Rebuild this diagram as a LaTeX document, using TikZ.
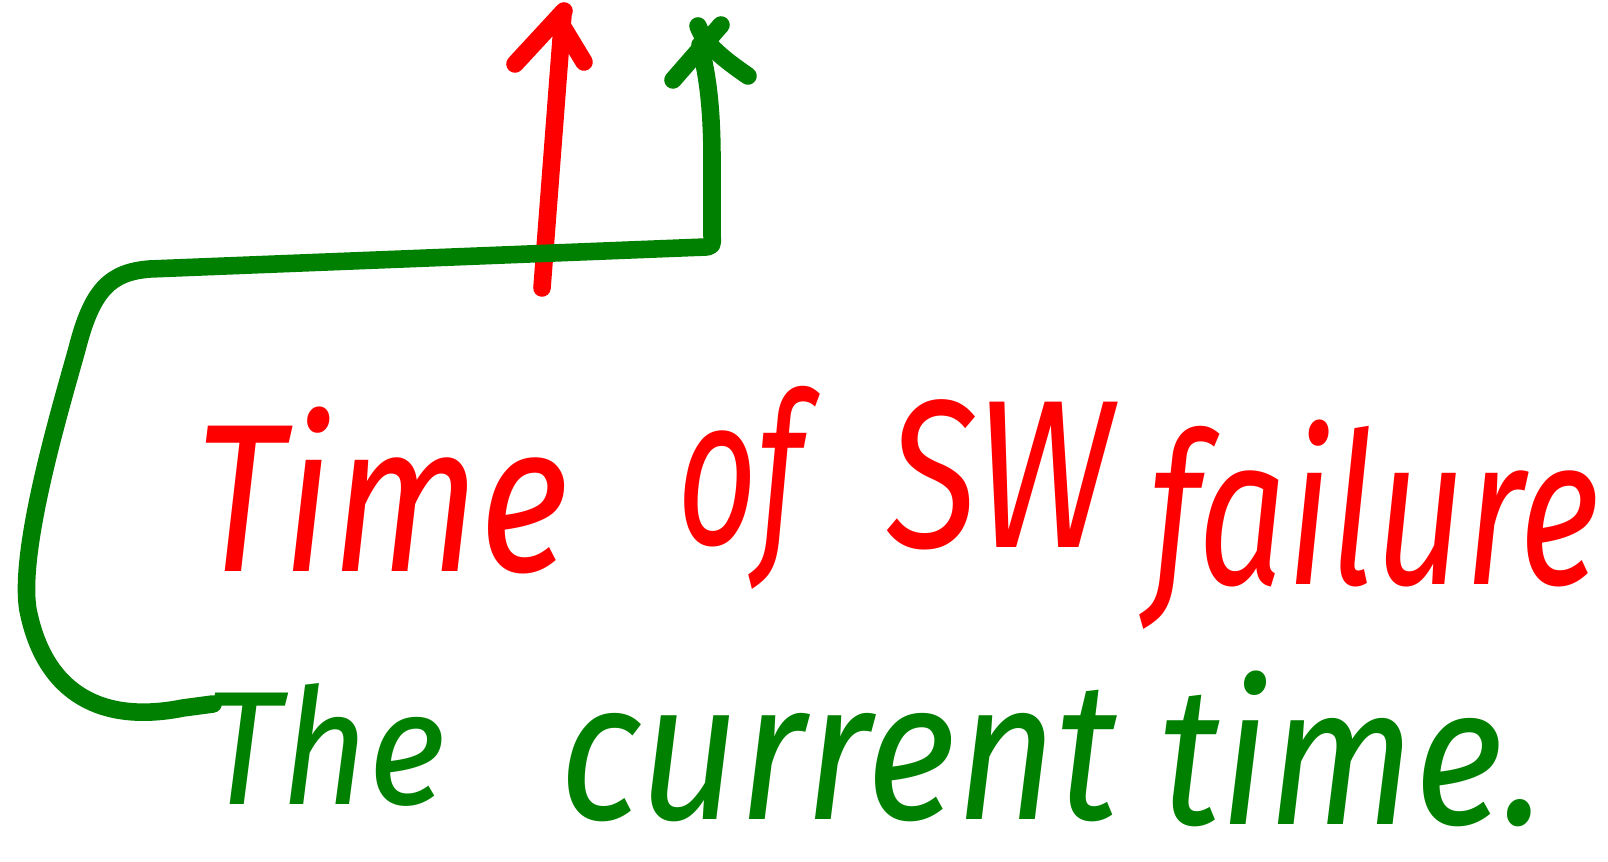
\documentclass[tikz,border=0pt]{standalone}
\usepackage{fontspec}
\setmainfont{Fira Sans}
\usepackage{graphicx}
\usetikzlibrary{calc}
\definecolor{pred}{RGB}{255,0,0}
\definecolor{pgreen}{RGB}{0,128,0}
\newcommand\wordw[2]{\resizebox{#1}{\height}{#2\/}}
\begin{document}
\begin{tikzpicture}[x=0.01cm,y=-0.01cm,
  pen/.style={line width=5pt,line cap=round,line join=round},
  redpen/.style={pen,draw=pred},
  greenpen/.style={pen,draw=pgreen},
  word/.style={anchor=base west,inner sep=0pt,outer sep=0pt},
  redword/.style={word,text=pred,font=\fontsize{60}{60}\selectfont\itshape},
  greenword/.style={word,text=pgreen,font=\fontsize{56}{56}\selectfont\itshape}]
\path[use as bounding box] (0,0) rectangle (1608,862);
% red words
\node[redword] (r1) at (195,572) {\wordw{3.74cm}{Time}};
\node[redword] (r2) at (677,545) {\wordw{1.43cm}{of}};
\node[redword] (r3) at (887,548) {\wordw{2.31cm}{SW}};
\node[redword] (r4) at (1149,585) {\wordw{4.51cm}{failure}};
% green words
\node[greenword,font=\fontsize{46}{46}\selectfont\itshape] (g1) at (205,805) {\wordw{2.41cm}{The}};
\node[greenword] (g2) at (559,820) {\wordw{5.59cm}{current}};
\node[greenword] (g3) at (1159,825) {\wordw{3.86cm}{time.}};
\coordinate (tee) at ($(g1.base west)+(8,-101)$);
% red arrow
\coordinate (rbase) at (542,288);
\coordinate (rtip) at (563,14);
\draw[redpen] (rbase) -- (rtip);
\draw[redpen] (515,64) -- (564,11);
\draw[redpen] (561,24) -- (584,62);
% green connector
\coordinate (gtip) at (700,45);
\draw[greenpen] (tee) -- ($(tee)+(-30,4)$)
  .. controls ($(tee)+(-110,20)$) and (45,695) .. (28,610)
  .. controls (18,550) and (60,410) .. (77,349)
  .. controls (92,290) and (110,272) .. (150,269)
  -- (706,247) .. controls (712,247) and (713,244) .. (712,236)
  -- (712,160) .. controls (712,100) and (706,70) .. (gtip);
\draw[greenpen] (673,80) -- (721,25);
\draw[greenpen] (698,26) .. controls (705,45) and (725,60) .. (748,76);
\end{tikzpicture}
\end{document}
